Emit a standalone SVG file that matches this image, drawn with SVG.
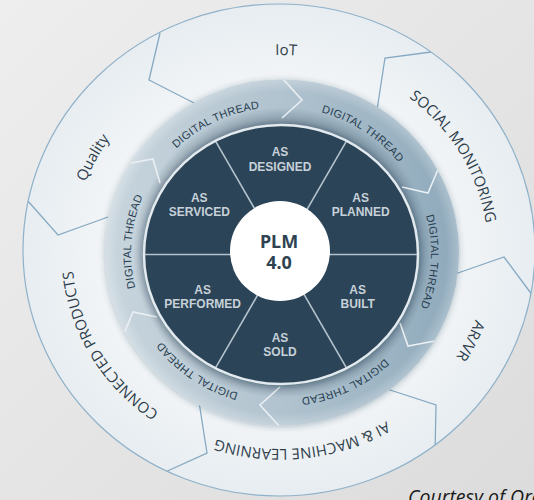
<svg xmlns="http://www.w3.org/2000/svg" width="534" height="500" viewBox="0 0 534 500">
<defs>
  <linearGradient id="bg" x1="0" y1="0" x2="1" y2="1">
    <stop offset="0" stop-color="#eeeeee"/>
    <stop offset="1" stop-color="#dcdcdc"/>
  </linearGradient>
  <radialGradient id="band" cx="0.5" cy="0.5" r="0.5">
    <stop offset="0.6" stop-color="#f5f7f9"/>
    <stop offset="1" stop-color="#e7edf1"/>
  </radialGradient>
  <linearGradient id="ring" x1="0" y1="0" x2="1" y2="0">
    <stop offset="0" stop-color="#c8d5dd"/>
    <stop offset="0.5" stop-color="#b1c3cf"/>
    <stop offset="1" stop-color="#8ea9bb"/>
  </linearGradient>
  <radialGradient id="ringShade" cx="0.5" cy="0.5" r="0.5">
    <stop offset="0.74" stop-color="#1f3a4d" stop-opacity="0.35"/>
    <stop offset="0.84" stop-color="#1f3a4d" stop-opacity="0"/>
    <stop offset="0.93" stop-color="#ffffff" stop-opacity="0"/>
    <stop offset="1" stop-color="#ffffff" stop-opacity="0.25"/>
  </radialGradient>
  <filter id="sh" x="-10%" y="-10%" width="120%" height="120%">
    <feDropShadow dx="0" dy="1" stdDeviation="3" flood-color="#203848" flood-opacity="0.3"/>
  </filter>
  <filter id="sh2" x="-10%" y="-10%" width="120%" height="120%">
    <feDropShadow dx="0" dy="1" stdDeviation="4" flood-color="#102030" flood-opacity="0.55"/>
  </filter>
  <clipPath id="clipOuter"><ellipse cx="279" cy="250" rx="256" ry="246"/></clipPath>
  <clipPath id="clipRing"><ellipse cx="282" cy="252.5" rx="177" ry="173"/></clipPath>
  <path id="outerPath" d="M72,252 A208,197 0 0 1 488,252 A208,197 0 0 1 72,252"/>
  <path id="ringPath" d="M281,399 A150,146 0 0 1 281,107 A150,146 0 0 1 281,399"/>
  <style>
    .outer-label{font-family:"Open Sans","Liberation Sans",sans-serif;font-size:15px;fill:#2f3e4b}
    .thread{font-family:"Liberation Sans",Arial,sans-serif;font-size:11px;fill:#283e50;letter-spacing:0.3px}
    .sector-label{font-family:"Liberation Sans",Arial,sans-serif;font-size:12px;font-weight:bold;fill:#c7d1d9;text-anchor:middle}
    .sep{fill:none;stroke:#86a9c2;stroke-width:1.3}
    .chev{fill:none;stroke:#e9eff3;stroke-width:1.6}
    .spoke{stroke:#b3c3ce;stroke-width:1.6}
    .sector{fill:#2c4457}
  </style>
</defs>

<rect width="534" height="500" fill="url(#bg)"/>

<!-- outer band -->
<ellipse cx="279" cy="250" rx="256" ry="246" fill="url(#band)"/>

<g id="connectors">
  <g clip-path="url(#clipOuter)">
    <polyline class="sep" points="160,33 149,80 196,104"/>
    <polyline class="sep" points="431,52 385,58 377,110"/>
    <polyline class="sep" points="533,296 504,257 455,274"/>
    <polyline class="sep" points="435,455 436,405 387,389"/>
    <polyline class="sep" points="163,473 207,453 199,402"/>
    <polyline class="sep" points="27,200 58,235 108,217"/>
  </g>
</g>
<ellipse cx="279" cy="250" rx="256" ry="246" fill="none" stroke="#8fb1c9" stroke-width="1.2"/>

<g id="iot"><text class="outer-label"><textPath href="#outerPath" startOffset="25.47%" text-anchor="middle">IoT</textPath></text></g>
<g id="quality"><text class="outer-label"><textPath href="#outerPath" startOffset="7.6%" text-anchor="middle">Quality</textPath></text></g>
<g id="social-monitoring"><text class="outer-label"><textPath href="#outerPath" startOffset="41.8%" text-anchor="middle">SOCIAL MONITORING</textPath></text></g>
<g id="ar-vr"><text class="outer-label"><textPath href="#outerPath" startOffset="57.1%" text-anchor="middle">AR/VR</textPath></text></g>
<g id="ai-ml"><text class="outer-label"><textPath href="#outerPath" startOffset="73.2%" text-anchor="middle">AI &amp; MACHINE LEARNING</textPath></text></g>
<g id="connected-products"><text class="outer-label"><textPath href="#outerPath" startOffset="91.8%" text-anchor="middle">CONNECTED PRODUCTS</textPath></text></g>

<!-- digital thread ring -->
<g id="thread-ring">
  <ellipse cx="282" cy="252.5" rx="177" ry="173" fill="url(#ring)" filter="url(#sh)"/>
  <ellipse cx="282" cy="252.5" rx="177" ry="173" fill="url(#ringShade)"/>
  <g clip-path="url(#clipRing)">
    <polyline class="chev" points="282,78 302,100 282,118"/>
    <polyline class="chev" points="439,167 428,193 402,187"/>
    <polyline class="chev" points="435,341 408,346 400,323"/>
    <polyline class="chev" points="280,427 260,405 280,387"/>
    <polyline class="chev" points="123,336 133,312 157,317"/>
    <polyline class="chev" points="125,164 153,159 160,183"/>
  </g>
</g>

<g id="thread-left"><text class="thread"><textPath href="#ringPath" startOffset="26.25%" text-anchor="middle">DIGITAL THREAD</textPath></text></g>
<g id="thread-upper-left"><text class="thread"><textPath href="#ringPath" startOffset="42.64%" text-anchor="middle">DIGITAL THREAD</textPath></text></g>
<g id="thread-upper-right"><text class="thread"><textPath href="#ringPath" startOffset="59.44%" text-anchor="middle">DIGITAL THREAD</textPath></text></g>
<g id="thread-right"><text class="thread"><textPath href="#ringPath" startOffset="75.97%" text-anchor="middle">DIGITAL THREAD</textPath></text></g>
<g id="thread-lower-right"><text class="thread"><textPath href="#ringPath" startOffset="92.78%" text-anchor="middle">DIGITAL THREAD</textPath></text></g>
<g id="thread-lower-left"><text class="thread"><textPath href="#ringPath" startOffset="9.72%" text-anchor="middle">DIGITAL THREAD</textPath></text></g>

<!-- dark disc -->
<ellipse cx="281" cy="254.5" rx="137" ry="129.5" fill="#2c4457" filter="url(#sh2)"/>

<g id="as-designed">
  <path class="sector" d="M281,254.5 L215.4,140.8 A137,129.5 0 0 1 346.6,140.8 Z"/>
  <text class="sector-label" x="280" y="156">AS</text>
  <text class="sector-label" x="280" y="170.7">DESIGNED</text>
</g>
<g id="as-planned">
  <path class="sector" d="M281,254.5 L346.6,140.8 A137,129.5 0 0 1 418,254.5 Z"/>
  <text class="sector-label" x="360.7" y="201.7">AS</text>
  <text class="sector-label" x="360.7" y="216">PLANNED</text>
</g>
<g id="as-built">
  <path class="sector" d="M281,254.5 L418,254.5 A137,129.5 0 0 1 346.6,368.2 Z"/>
  <text class="sector-label" x="357.7" y="294">AS</text>
  <text class="sector-label" x="357.7" y="308.3">BUILT</text>
</g>
<g id="as-sold">
  <path class="sector" d="M281,254.5 L346.6,368.2 A137,129.5 0 0 1 215.4,368.2 Z"/>
  <text class="sector-label" x="280" y="341.7">AS</text>
  <text class="sector-label" x="280" y="355.7">SOLD</text>
</g>
<g id="as-performed">
  <path class="sector" d="M281,254.5 L215.4,368.2 A137,129.5 0 0 1 144,254.5 Z"/>
  <text class="sector-label" x="202.7" y="294">AS</text>
  <text class="sector-label" x="202.7" y="308.3">PERFORMED</text>
</g>
<g id="as-serviced">
  <path class="sector" d="M281,254.5 L144,254.5 A137,129.5 0 0 1 215.4,140.8 Z"/>
  <text class="sector-label" x="199.3" y="201.7">AS</text>
  <text class="sector-label" x="199.3" y="216">SERVICED</text>
</g>

<g id="spokes">
  <line class="spoke" x1="144" y1="254.5" x2="418" y2="254.5"/>
  <line class="spoke" x1="215.4" y1="140.8" x2="346.6" y2="368.2"/>
  <line class="spoke" x1="346.6" y1="140.8" x2="215.4" y2="368.2"/>
</g>
<ellipse cx="281" cy="254.5" rx="137" ry="129.5" fill="none" stroke="#e3eaef" stroke-width="2.5"/>

<g id="plm">
  <circle cx="280" cy="251" r="50" fill="#ffffff"/>
  <text x="279" y="248.3" text-anchor="middle" font-family="'Noto Sans','Open Sans',sans-serif" font-weight="bold" font-size="18" fill="#2e4252">PLM</text>
  <text x="279" y="268.5" text-anchor="middle" font-family="'Noto Sans','Open Sans',sans-serif" font-weight="bold" font-size="18" fill="#2e4252">4.0</text>
</g>

<text x="408" y="504" font-family="'Open Sans','Liberation Sans',sans-serif" font-style="italic" font-size="19.5" fill="#1a1a1a">Courtesy of Oracle</text>
</svg>
